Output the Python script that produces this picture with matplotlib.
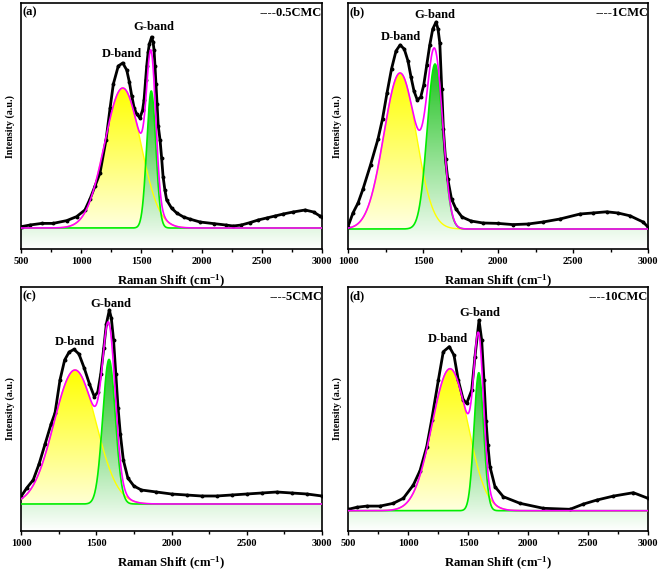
import numpy as np
import matplotlib
matplotlib.use('Agg')
import matplotlib.pyplot as plt
from matplotlib.patches import Polygon
from matplotlib.colors import LinearSegmentedColormap
from matplotlib.ticker import MultipleLocator

plt.rcParams['font.family'] = ['Liberation Serif', 'DejaVu Serif']
plt.rcParams['font.weight'] = 'bold'
plt.rcParams['mathtext.fontset'] = 'custom'
plt.rcParams['mathtext.rm'] = 'Liberation Serif:bold'
plt.rcParams['mathtext.it'] = 'Liberation Serif:bold'
plt.rcParams['mathtext.bf'] = 'Liberation Serif:bold'

# ---- measured spectra (Raman shift, intensity) ----
x_a = [505, 575, 672, 766, 880, 962, 1031, 1073, 1115, 1156, 1206, 1240, 1267, 1308,
       1345, 1378, 1400, 1420, 1440, 1461, 1488, 1510, 1522, 1535, 1544, 1556, 1566,
       1585, 1597, 1605, 1613, 1621, 1630, 1640, 1655, 1668, 1680, 1695, 1710, 1750,
       1793, 1850, 1900, 1987, 2100, 2200, 2263, 2330, 2402, 2470, 2540, 2610, 2678,
       2760, 2860, 2930, 2983, 3000]
y_a = [0.007, 0.015, 0.023, 0.023, 0.037, 0.057, 0.09, 0.145, 0.21, 0.275, 0.44, 0.6,
       0.72, 0.81, 0.825, 0.79, 0.73, 0.66, 0.6, 0.57, 0.55, 0.59, 0.64, 0.74, 0.81,
       0.88, 0.92, 0.955, 0.93, 0.89, 0.81, 0.72, 0.62, 0.51, 0.44, 0.35, 0.257, 0.19,
       0.14, 0.1, 0.075, 0.055, 0.045, 0.03, 0.022, 0.015, 0.01, 0.015, 0.027, 0.04,
       0.05, 0.06, 0.07, 0.08, 0.09, 0.08, 0.06, 0.055]

x_b = [1000, 1033, 1067, 1100, 1150, 1200, 1230, 1260, 1290, 1320, 1347, 1375, 1400,
       1420, 1440, 1462, 1485, 1505, 1525, 1545, 1565, 1587, 1600, 1612, 1625, 1636,
       1650, 1665, 1690, 1720, 1760, 1820, 1900, 2000, 2100, 2200, 2300, 2413, 2547,
       2630, 2724, 2800, 2880, 2967, 3000]
y_b = [0.012, 0.08, 0.13, 0.2, 0.32, 0.45, 0.55, 0.68, 0.8, 0.89, 0.92, 0.9, 0.84,
       0.76, 0.69, 0.645, 0.66, 0.72, 0.82, 0.92, 1.0, 1.035, 1.0, 0.93, 0.7, 0.5,
       0.35, 0.25, 0.15, 0.1, 0.06, 0.04, 0.03, 0.028, 0.022, 0.025, 0.035, 0.05,
       0.075, 0.08, 0.086, 0.08, 0.066, 0.035, 0.01]

x_c = [1000, 1038, 1081, 1120, 1160, 1200, 1226, 1259, 1290, 1320, 1352, 1385, 1420,
       1455, 1487, 1510, 1530, 1550, 1567, 1587, 1600, 1615, 1630, 1645, 1660, 1680,
       1710, 1750, 1800, 1900, 2000, 2100, 2200, 2300, 2400, 2500, 2600, 2700, 2800,
       2900, 3000]
y_c = [0.037, 0.08, 0.12, 0.2, 0.3, 0.4, 0.455, 0.62, 0.72, 0.76, 0.773, 0.75, 0.68,
       0.6, 0.537, 0.56, 0.65, 0.78, 0.9, 0.97, 0.93, 0.82, 0.65, 0.48, 0.35, 0.22,
       0.13, 0.09, 0.07, 0.06, 0.05, 0.045, 0.04, 0.04, 0.045, 0.05, 0.055, 0.06,
       0.055, 0.05, 0.04]

x_d = [503, 572, 656, 767, 878, 961, 1044, 1100, 1156, 1197, 1253, 1294, 1344, 1383,
       1419, 1461, 1489, 1531, 1558, 1592, 1614, 1633, 1650, 1665, 1683, 1725, 1794,
       1933, 2128, 2350, 2461, 2572, 2711, 2878, 3000]
y_d = [0.007, 0.017, 0.023, 0.023, 0.037, 0.062, 0.128, 0.2, 0.32, 0.453, 0.653,
       0.795, 0.82, 0.778, 0.653, 0.553, 0.537, 0.603, 0.77, 0.953, 0.853, 0.653,
       0.45, 0.33, 0.22, 0.12, 0.07, 0.037, 0.012, 0.007, 0.033, 0.053, 0.073, 0.09,
       0.062]

# ---- fitted peaks: (centre, height, sigma) ----
d_band = [(1345, 0.70, 150), (1347, 0.78, 108), (1359, 0.67, 140), (1350, 0.71, 150)]
g_band = [(1582, 0.685, 38), (1580, 0.825, 52), (1585, 0.723, 42), (1590, 0.69, 40)]

samples = ['----0.5CMC', '----1CMC', '----5CMC', '----10CMC']
tags = ['(a)', '(b)', '(c)', '(d)']
xranges = [(500, 3000), (1000, 3000), (1000, 3000), (500, 3000)]
yranges = [(-0.105, 1.125), (-0.10, 1.13), (-0.135, 1.085), (-0.1015, 1.1185)]
g_label = [(1605, 1.005), (1580, 1.07), (1596, 1.0), (1600, 0.99)]
d_label = [(1339, 0.87), (1351, 0.96), (1359, 0.81), (1333, 0.86)]

spectra = [(x_a, y_a), (x_b, y_b), (x_c, y_c), (x_d, y_d)]

# axes boxes in pixels (left, top, right, bottom) of a 661x572 figure
W, H = 661, 572
boxes = [(21, 3, 322, 249), (348, 3, 648, 249), (21, 287, 322, 531), (348, 287, 648, 531)]


def gauss(x, p):
    c, h, s = p
    return h * np.exp(-(x - c) ** 2 / (2 * s ** 2))


def grad_fill(ax, x, y, color, ybot, ytop, z):
    verts = [(x[0], ybot)] + list(zip(x, y)) + [(x[-1], ybot)]
    poly = Polygon(verts, closed=True, facecolor='none', edgecolor='none')
    ax.add_patch(poly)
    cmap = LinearSegmentedColormap.from_list('g', ['white', color])
    grad = np.linspace(0, 1, 256).reshape(-1, 1)
    im = ax.imshow(grad, extent=[x[0], x[-1], ybot, ytop], origin='lower',
                   cmap=cmap, aspect='auto', zorder=z, interpolation='bilinear')
    im.set_clip_path(poly)


fig = plt.figure(figsize=(W / 100, H / 100), dpi=100)

for i in range(4):
    l, t, r, b = boxes[i]
    ax = fig.add_axes([l / W, 1 - b / H, (r - l) / W, (b - t) / H])
    x0, x1 = xranges[i]
    y0, y1 = yranges[i]
    xs = np.linspace(x0, x1, 1200)
    dcomp = gauss(xs, d_band[i])
    gcomp = gauss(xs, g_band[i])

    grad_fill(ax, xs, dcomp, '#ffff00', y0, d_band[i][1], 1)
    grad_fill(ax, xs, gcomp, '#1fc21f', y0, g_band[i][1], 2)
    ax.plot(xs, dcomp, color='#ffff00', lw=1.0, zorder=3)
    ax.plot(xs, gcomp, color='#00ee00', lw=1.2, zorder=4)

    sx, sy = spectra[i]
    ax.plot(sx, sy, color='black', lw=2.0, marker='o', ms=1.8, zorder=5)
    ax.plot(xs, dcomp + gcomp, color='#ff00ff', lw=1.2, zorder=6)

    ax.set_xlim(x0, x1)
    ax.set_ylim(y0, y1)
    ax.set_yticks([])
    ax.xaxis.set_major_locator(MultipleLocator(500))
    ax.xaxis.set_minor_locator(MultipleLocator(250))
    ax.tick_params(axis='x', which='major', direction='out', length=3, width=1.0,
                   labelsize=7.5, pad=3)
    ax.tick_params(axis='x', which='minor', direction='out', length=2, width=1.0)
    for lab in ax.get_xticklabels():
        lab.set_fontweight('bold')
    for sp in ax.spines.values():
        sp.set_linewidth(1.2)

    ax.set_xlabel('Raman Shift (cm$^{-1}$)', fontsize=9.2, fontweight='bold', labelpad=5)
    ax.set_ylabel('Intensity (a.u.)', fontsize=7.2, fontweight='bold', labelpad=4)

    ax.text(0.005, 0.985, tags[i], transform=ax.transAxes, ha='left', va='top',
            fontsize=9, fontweight='bold', zorder=10)
    ax.text(1.0, 0.985, samples[i], transform=ax.transAxes, ha='right', va='top',
            fontsize=9, fontweight='bold', zorder=10)
    ax.text(g_label[i][0], g_label[i][1], 'G-band', ha='center', va='center',
            fontsize=9, fontweight='bold', zorder=10)
    ax.text(d_label[i][0], d_label[i][1], 'D-band', ha='center', va='center',
            fontsize=9, fontweight='bold', zorder=10)

fig.savefig('out.png', dpi=100)
